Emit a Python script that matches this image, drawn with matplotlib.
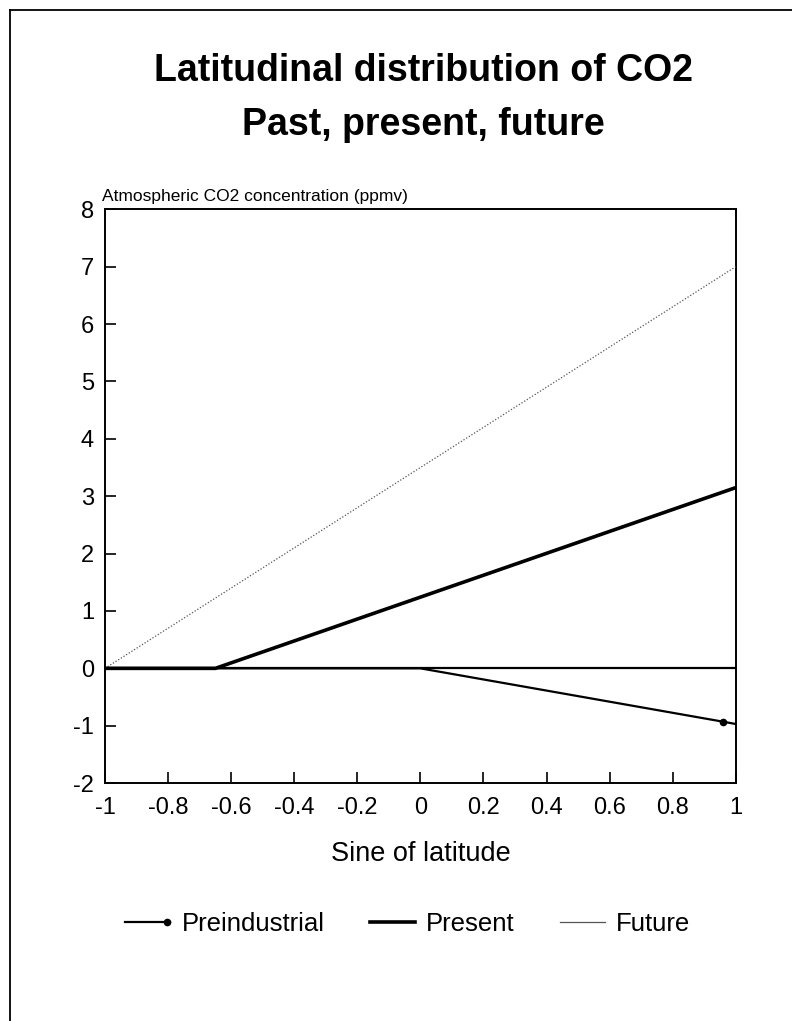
import numpy as np
import matplotlib
matplotlib.use('Agg')
import matplotlib.pyplot as plt
from matplotlib.lines import Line2D
from matplotlib.legend_handler import HandlerLine2D

plt.rcParams['font.family'] = ['Liberation Sans', 'DejaVu Sans']

# Sine of latitude vs. CO2 relative to the South Pole (ppmv)
preind_x = [-1.0, 0.0, 0.96, 1.0]
preind_y = [0.0, 0.0, -0.93, -0.97]
preind_mark = 2          # index of the plotted dot

present_x = [-1.0, -0.65, 1.0]
present_y = [0.0, 0.0, 3.15]

future_x = [-1.0, 1.0]
future_y = [0.0, 7.0]

xticks = [-1, -0.8, -0.6, -0.4, -0.2, 0, 0.2, 0.4, 0.6, 0.8, 1]
xticklabels = ['-1', '-0.8', '-0.6', '-0.4', '-0.2', '0', '0.2', '0.4', '0.6', '0.8', '1']
yticks = list(range(-2, 9))
yticklabels = ['-2', '-1', '0', '1', '2', '3', '4', '5', '6', '7', '8']
series_names = ['Preindustrial', 'Present', 'Future']


class EndDotHandler(HandlerLine2D):
    '''Legend sample with the marker only at the right end of the line.'''
    def create_artists(self, legend, orig_handle, xdescent, ydescent,
                       width, height, fontsize, trans):
        y = (height - ydescent) / 2
        line = Line2D([-xdescent, -xdescent + width], [y, y])
        self.update_prop(line, orig_handle, legend)
        line.set_marker('')
        dot = Line2D([-xdescent + width - 2], [y])
        self.update_prop(dot, orig_handle, legend)
        dot.set_linestyle('None')
        line.set_transform(trans)
        dot.set_transform(trans)
        return [line, dot]


def main():
    fig = plt.figure(figsize=(7.92, 10.21), dpi=100)
    ax = fig.add_axes([0.1326, 0.233, 0.7964, 0.562])

    ax.axhline(0, color='black', lw=1.6, zorder=2)
    ax.plot(future_x, future_y, color='#555555', lw=0.9, ls=(0, (1, 1.5)), zorder=3)
    ax.plot(present_x, present_y, color='black', lw=2.6, zorder=4)
    ax.plot(preind_x, preind_y, color='black', lw=1.6, zorder=4)
    ax.plot(preind_x[preind_mark], preind_y[preind_mark], 'o', color='black',
            ms=4.5, zorder=5)

    ax.set_xlim(-1, 1)
    ax.set_ylim(-2, 8)
    ax.set_xticks(xticks)
    ax.set_xticklabels(xticklabels)
    ax.set_yticks(yticks)
    ax.set_yticklabels(yticklabels)
    ax.tick_params(direction='in', length=8, width=1.2, labelsize=17)
    ax.tick_params(axis='x', pad=10)
    ax.tick_params(axis='y', pad=8)
    for sp in ax.spines.values():
        sp.set_linewidth(1.4)

    ax.set_xlabel('Sine of latitude', fontsize=19.5, labelpad=16)
    ax.text(-0.005, 1.01, 'Atmospheric CO2 concentration (ppmv)', transform=ax.transAxes,
            ha='left', va='bottom', fontsize=12.5)

    fig.text(0.535, 0.930, 'Latitudinal distribution of CO2', ha='center', va='center',
             fontsize=27, fontweight='bold')
    fig.text(0.535, 0.878, 'Past, present, future', ha='center', va='center',
             fontsize=27, fontweight='bold')

    handles = [
        Line2D([], [], color='black', lw=1.6, marker='o', ms=4.5),
        Line2D([], [], color='black', lw=2.6),
        Line2D([], [], color='#555555', lw=0.9),
    ]
    ax.legend(handles, series_names, loc='upper center', bbox_to_anchor=(0.48, -0.185),
              ncol=3, frameon=False, fontsize=18.5, handlelength=1.75,
              handletextpad=0.45, columnspacing=1.75,
              handler_map={handles[0]: EndDotHandler()})

    # page frame (top and left edges)
    fig.add_artist(Line2D([0.0126, 1.0], [0.9902, 0.9902], color='black', lw=1.3,
                          transform=fig.transFigure))
    fig.add_artist(Line2D([0.0126, 0.0126], [0.0, 0.9902], color='black', lw=1.3,
                          transform=fig.transFigure))

    fig.savefig('out.png', dpi=100)


if __name__ == '__main__':
    main()
